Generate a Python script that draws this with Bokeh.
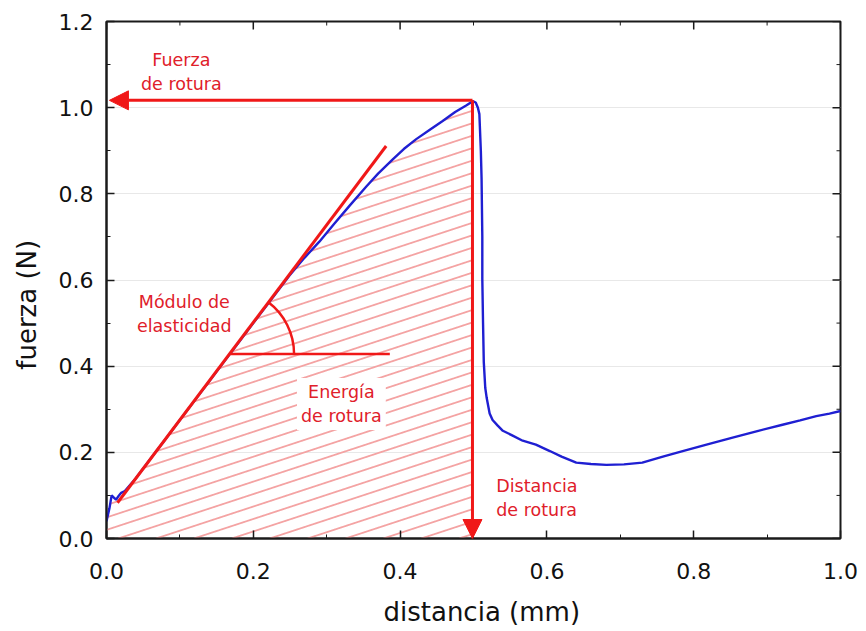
import numpy as np
from bokeh.plotting import figure
from bokeh.models import Range1d, FixedTicker, Arrow, NormalHead, Label, CustomJSTickFormatter
from bokeh.embed import file_html
from bokeh.resources import INLINE

# ---- data ----
dist = [0.000, 0.004, 0.007, 0.010, 0.013, 0.017, 0.020, 0.025, 0.040, 0.060,
        0.080, 0.100, 0.120, 0.140, 0.160, 0.180, 0.200, 0.220, 0.249, 0.270,
        0.290, 0.310, 0.331, 0.354, 0.370, 0.390, 0.405, 0.422, 0.440, 0.458,
        0.475, 0.490, 0.499, 0.503, 0.506, 0.508, 0.510, 0.511, 0.512, 0.512,
        0.513, 0.514, 0.516, 0.518, 0.522, 0.526, 0.533, 0.540, 0.552, 0.567,
        0.585, 0.604, 0.620, 0.640, 0.660, 0.681, 0.705, 0.730, 0.758, 0.785,
        0.820, 0.853, 0.888, 0.921, 0.945, 0.967, 0.985, 1.000]
fuerza = [0.040, 0.070, 0.100, 0.095, 0.090, 0.100, 0.106, 0.110, 0.140, 0.185,
          0.230, 0.275, 0.320, 0.365, 0.410, 0.455, 0.500, 0.545, 0.610, 0.652,
          0.689, 0.730, 0.772, 0.817, 0.847, 0.880, 0.904, 0.927, 0.948, 0.969,
          0.990, 1.005, 1.015, 1.012, 1.000, 0.985, 0.900, 0.835, 0.700, 0.603,
          0.500, 0.410, 0.350, 0.326, 0.290, 0.275, 0.262, 0.250, 0.240, 0.227,
          0.218, 0.203, 0.190, 0.176, 0.173, 0.171, 0.172, 0.176, 0.190, 0.203,
          0.219, 0.234, 0.250, 0.264, 0.274, 0.284, 0.290, 0.296]

x_ticks = [0.0, 0.2, 0.4, 0.6, 0.8, 1.0]
y_ticks = [0.0, 0.2, 0.4, 0.6, 0.8, 1.0, 1.2]
x_minor = [0.1, 0.3, 0.5, 0.7, 0.9]
y_minor = [0.1, 0.3, 0.5, 0.7, 0.9, 1.1]

tangent_x = [0.015, 0.381]
tangent_y = [0.083, 0.911]
horiz_x = [0.167, 0.386]
horiz_y = [0.428, 0.428]
rotura_x = 0.4986      # distancia de rotura
rotura_y = 1.017       # fuerza de rotura

RED = "#f01818"
TXT_RED = "#e0202a"
BLUE = "#1f1fd2"
HATCH = "#f4a3a3"
AX = "#1a1a1a"
FONT = "DejaVu Sans"
NB = "\u00a0"

W, H = 862, 629
ML, MR, MT, MB = 106, 22, 21, 89
FW, FH = W - ML - MR, H - MT - MB

p = figure(width=W, height=H, output_backend="svg", toolbar_location=None,
           x_range=Range1d(0, 1.0), y_range=Range1d(0, 1.2),
           min_border_left=ML, min_border_right=MR, min_border_top=MT,
           min_border_bottom=MB,
           x_axis_label=NB * 2 + "distancia (mm)",
           y_axis_label="fuerza (N)" + NB * 6)
p.outline_line_color = AX
p.outline_line_width = 2
p.xgrid.visible = False
p.ygrid.grid_line_color = "#e8e8e8"
p.ygrid.grid_line_width = 1
p.ygrid.ticker = FixedTicker(ticks=y_ticks[1:-1])

fmt = CustomJSTickFormatter(code="return tick.toFixed(1);")

for ax, ticks, minor in ((p.xaxis[0], x_ticks, x_minor), (p.yaxis[0], y_ticks, y_minor)):
    ax.ticker = FixedTicker(ticks=ticks, minor_ticks=minor)
    ax.axis_line_width = 2
    ax.axis_line_color = AX
    ax.major_tick_in = 8
    ax.major_tick_out = 0
    ax.minor_tick_in = 4
    ax.minor_tick_out = 0
    ax.major_tick_line_width = 1.5
    ax.major_tick_line_color = AX
    ax.minor_tick_line_color = AX
    ax.formatter = fmt
    ax.major_label_text_font = FONT
    ax.major_label_text_font_size = "22px"
    ax.major_label_text_color = "#111111"
    ax.axis_label_text_font = FONT
    ax.axis_label_text_font_size = "26px"
    ax.axis_label_text_font_style = "normal"
    ax.axis_label_text_color = "#111111"

p.xaxis[0].major_label_standoff = 24
p.xaxis[0].axis_label_standoff = 15
p.yaxis[0].major_label_standoff = 13
p.yaxis[0].axis_label_standoff = 14

# ticks on the top and right edges (inward)
p.ray(x=x_ticks, y=[1.2] * len(x_ticks), length=8, length_units="screen",
      angle=-np.pi / 2, line_color=AX, line_width=1.5)
p.ray(x=x_minor, y=[1.2] * len(x_minor), length=4, length_units="screen",
      angle=-np.pi / 2, line_color=AX, line_width=1)
p.ray(x=[1.0] * len(y_ticks), y=y_ticks, length=8, length_units="screen",
      angle=np.pi, line_color=AX, line_width=1.5)
p.ray(x=[1.0] * len(y_minor), y=y_minor, length=4, length_units="screen",
      angle=np.pi, line_color=AX, line_width=1)

# ---- hatch under the curve (0 .. rotura_x) ----
px_per_x = FW / 1.0
px_per_y = FH / 1.2
k_data = 0.33 * px_per_x / px_per_y
step = 12.5 / px_per_y
xs_h, ys_h = [], []
xx = np.linspace(0, rotura_x, 1500)
fx = np.interp(xx, dist[:33], fuerza[:33])
c0 = 0.02
while c0 > -k_data * rotura_x:
    c0 -= step
while c0 < 1.1:
    yy = c0 + k_data * xx
    mask = (yy >= 0) & (yy <= fx)
    if mask.any():
        idx = np.where(mask)[0]
        groups = np.split(idx, np.where(np.diff(idx) > 1)[0] + 1)
        for g in groups:
            if len(g) >= 2:
                xs_h.append(list(xx[g]))
                ys_h.append(list(yy[g]))
    c0 += step
p.multi_line(xs_h, ys_h, line_color=HATCH, line_width=1.8)

# ---- curve ----
p.line(dist, fuerza, line_color=BLUE, line_width=2.4)

# ---- annotations ----
p.line(tangent_x, tangent_y, line_color=RED, line_width=3)
p.line(horiz_x, horiz_y, line_color=RED, line_width=2.5)
slope_px = (tangent_y[1] - tangent_y[0]) / (tangent_x[1] - tangent_x[0]) * px_per_y / px_per_x
p.arc(x=[horiz_x[0]], y=[horiz_y[0]], radius=65, radius_units="screen",
      start_angle=0, end_angle=float(np.arctan(slope_px)),
      line_color=RED, line_width=2.5)

p.add_layout(Arrow(end=NormalHead(size=19, fill_color=RED, line_color=RED),
                   x_start=rotura_x, y_start=rotura_y, x_end=0.004, y_end=rotura_y,
                   line_color=RED, line_width=3))
p.add_layout(Arrow(end=NormalHead(size=19, fill_color=RED, line_color=RED),
                   x_start=rotura_x, y_start=rotura_y, x_end=rotura_x, y_end=0.0,
                   line_color=RED, line_width=3))

def lab(x, y, text, align="center", bg=None):
    l = Label(x=x, y=y, text=text, text_align=align, text_baseline="middle",
              text_font=FONT, text_font_size="17.5px",
              text_color=TXT_RED, text_line_height=1.2)
    if bg:
        l.background_fill_color = bg
        l.padding = 4
    p.add_layout(l)

lab(0.102, 1.082, "Fuerza\nde rotura")
lab(0.106, 0.52, "Módulo de\nelasticidad")
lab(0.320, 0.312, "Energía\nde rotura", bg="white")
lab(0.531, 0.095, "Distancia\nde rotura", align="left")

open("out.html", "w").write(file_html(p, INLINE))
